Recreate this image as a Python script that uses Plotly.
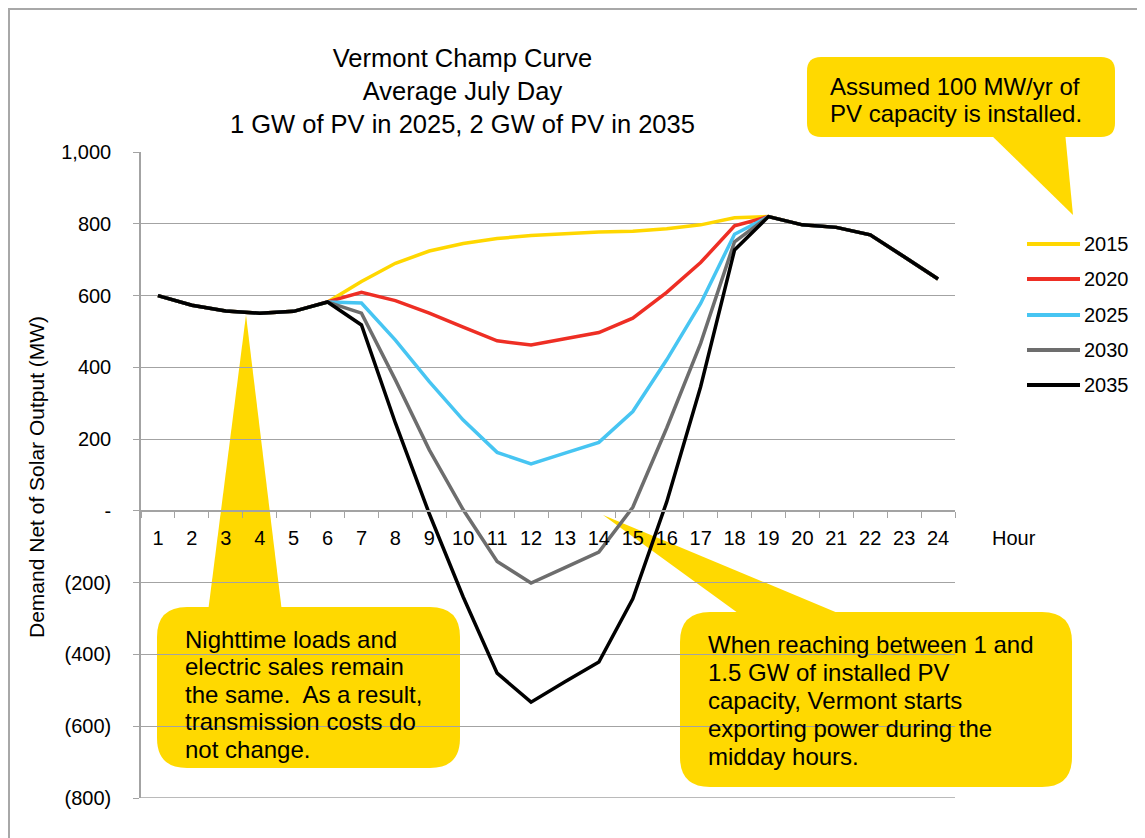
import plotly.graph_objects as go

# ---------------- data ----------------
hours = [str(h) for h in range(1, 25)]
y2015 = [600, 573, 557, 551, 556, 582, 639, 690, 724, 745, 759, 767, 772, 777, 779, 786, 797, 817, 820, 797, 790, 769, 708, 646]
y2020 = [600, 573, 557, 551, 556, 582, 609, 586, 551, 512, 474, 462, 479, 497, 537, 609, 692, 794, 820, 797, 790, 769, 708, 646]
y2025 = [600, 573, 557, 551, 556, 582, 579, 476, 360, 253, 163, 131, 161, 191, 277, 421, 578, 771, 820, 797, 790, 769, 708, 646]
y2030 = [600, 573, 557, 551, 556, 582, 551, 365, 170, 3, -141, -201, -158, -115, 10, 231, 467, 750, 820, 797, 790, 769, 708, 646]
y2035 = [600, 573, 557, 551, 556, 582, 518, 245, -8, -240, -452, -533, -476, -421, -245, 25, 346, 727, 820, 797, 790, 769, 708, 646]
series_names = ["2015", "2020", "2025", "2030", "2035"]
series_vals = [y2015, y2020, y2025, y2030, y2035]
series_colors = ["#FFD700", "#EE2E24", "#47C5F2", "#6D6D6D", "#000000"]

ytick_vals = [1000, 800, 600, 400, 200, 0, -200, -400, -600, -800]
ytick_text = ["1,000", "800", "600", "400", "200", "-", "(200)", "(400)", "(600)", "(800)"]
y_min, y_max = -800, 1000

title_lines = ["Vermont Champ Curve", "Average July Day", "1 GW of PV in 2025, 2 GW of PV in 2035"]
y_title = "Demand Net of Solar Output (MW)"
x_title = "Hour"
note_left = ["Nighttime loads and", "electric sales remain", "the same.  As a result,",
             "transmission costs do", "not change."]
note_right = ["When reaching between 1 and", "1.5 GW of installed PV", "capacity, Vermont starts",
              "exporting power during the", "midday hours."]
note_top = ["Assumed 100 MW/yr of", "PV capacity is installed."]

# ---------------- layout geometry (page pixels) ----------------
W, H = 1145, 838
OFF = 8                      # page body margin offset
L, R, T, B = 141, 955, 152, 798   # plot area in page pixels
FONT = "Liberation Sans, Arial, Helvetica, sans-serif"
CALLOUT = "#FFD900"
GRID = "#A3A3A3"


def px(x):
    return (x - L) / (R - L)


def py(y):
    return (B - y) / (B - T)


def path(points):
    return "M " + " L ".join(f"{px(x):.5f},{py(y):.5f}" for x, y in points) + " Z"


def rrect(x0, y0, x1, y1, r):
    def p(x, y):
        return f"{px(x):.5f},{py(y):.5f}"
    return (f"M {p(x0 + r, y0)} L {p(x1 - r, y0)} Q {p(x1, y0)} {p(x1, y0 + r)} "
            f"L {p(x1, y1 - r)} Q {p(x1, y1)} {p(x1 - r, y1)} L {p(x0 + r, y1)} "
            f"Q {p(x0, y1)} {p(x0, y1 - r)} L {p(x0, y0 + r)} Q {p(x0, y0)} {p(x0 + r, y0)} Z")


fig = go.Figure()
for name, vals, col in zip(series_names, series_vals, series_colors):
    fig.add_trace(go.Scatter(x=hours, y=vals, mode="lines", name=name,
                             line=dict(color=col, width=3.5), showlegend=False))

shapes = []
# outer chart border (top and left edges visible)
shapes.append(dict(type="rect", xref="paper", yref="paper", x0=px(9), y0=py(9), x1=px(1170), y1=py(870),
                   line=dict(color="#A8A8A8", width=2), fillcolor="rgba(0,0,0,0)", layer="below"))
# bottom gridline at the range edge
shapes.append(dict(type="line", xref="paper", yref="y", x0=0, x1=1, y0=y_min, y1=y_min,
                   line=dict(color=GRID, width=1.3), layer="between"))
# callouts
for pth in [rrect(157, 607, 460, 768, 30), path([(208, 612), (282, 612), (246, 315)]),
            rrect(680, 612, 1072, 787, 30), path([(742, 616), (845, 616), (603, 515)]),
            rrect(807, 57, 1115, 137, 14), path([(988, 132), (1065, 132), (1073, 215)])]:
    shapes.append(dict(type="path", xref="paper", yref="paper", path=pth,
                       fillcolor=CALLOUT, line=dict(width=0), layer="between"))

annotations = []
# title
annotations.append(dict(text="<br>".join(title_lines), xref="paper", yref="paper", x=px(462), y=py(91),
                        xanchor="center", yanchor="middle", showarrow=False,
                        font=dict(family=FONT, size=25.5, color="#000")))
# axis titles
annotations.append(dict(text=x_title, xref="paper", yref="paper", x=px(990), y=py(538),
                        xanchor="left", yanchor="middle", showarrow=False,
                        font=dict(family=FONT, size=20, color="#000")))
annotations.append(dict(text=y_title, xref="paper", yref="paper", x=px(36), y=py(477),
                        xanchor="center", yanchor="middle", showarrow=False, textangle=-90,
                        font=dict(family=FONT, size=21, color="#000")))


def note(lines, x, y0, step):
    for i, t in enumerate(lines):
        annotations.append(dict(text=t, xref="paper", yref="paper", x=px(x), y=py(y0 + i * step),
                                xanchor="left", yanchor="middle", showarrow=False,
                                font=dict(family=FONT, size=24, color="#000")))


note(note_left, 183, 639, 27.5)
note(note_right, 706, 644, 28)
note(note_top, 828, 87, 26.5)

# custom legend
leg_y = [244, 279, 315, 350, 385]
for name, col, yy in zip(series_names, series_colors, leg_y):
    shapes.append(dict(type="line", xref="paper", yref="paper", x0=px(1027), x1=px(1080), y0=py(yy), y1=py(yy),
                       line=dict(color=col, width=4)))
    annotations.append(dict(text=name, xref="paper", yref="paper", x=px(1082), y=py(yy),
                            xanchor="left", yanchor="middle", showarrow=False,
                            font=dict(family=FONT, size=20, color="#000")))

fig.update_layout(
    width=W, height=H,
    margin=dict(l=L - OFF, r=W - (R - OFF), t=T - OFF, b=H - (B - OFF), pad=0),
    paper_bgcolor="white", plot_bgcolor="white",
    shapes=shapes, annotations=annotations,
    font=dict(family=FONT, size=19, color="#000"),
    xaxis=dict(type="category", categoryorder="array", categoryarray=hours,
               range=[-0.5, len(hours) - 0.5],
               anchor="free", position=(0 - y_min) / (y_max - y_min),
               showline=True, linecolor=GRID, linewidth=1.5,
               ticks="outside", tickson="boundaries", ticklen=6, tickcolor=GRID, tickwidth=1.3,
               ticklabelstandoff=9,
               showgrid=False, zeroline=False,
               tickfont=dict(family=FONT, size=20, color="#000")),
    yaxis=dict(range=[y_min, y_max], tickvals=ytick_vals, ticktext=ytick_text,
               showline=True, linecolor=GRID, linewidth=1.5,
               ticks="outside", ticklen=6, tickcolor=GRID, tickwidth=1.3,
               ticklabelstandoff=18,
               showgrid=True, gridcolor=GRID, gridwidth=1.3,
               zeroline=False,
               tickfont=dict(family=FONT, size=20, color="#000")),
)

fig.write_html("out.html")
